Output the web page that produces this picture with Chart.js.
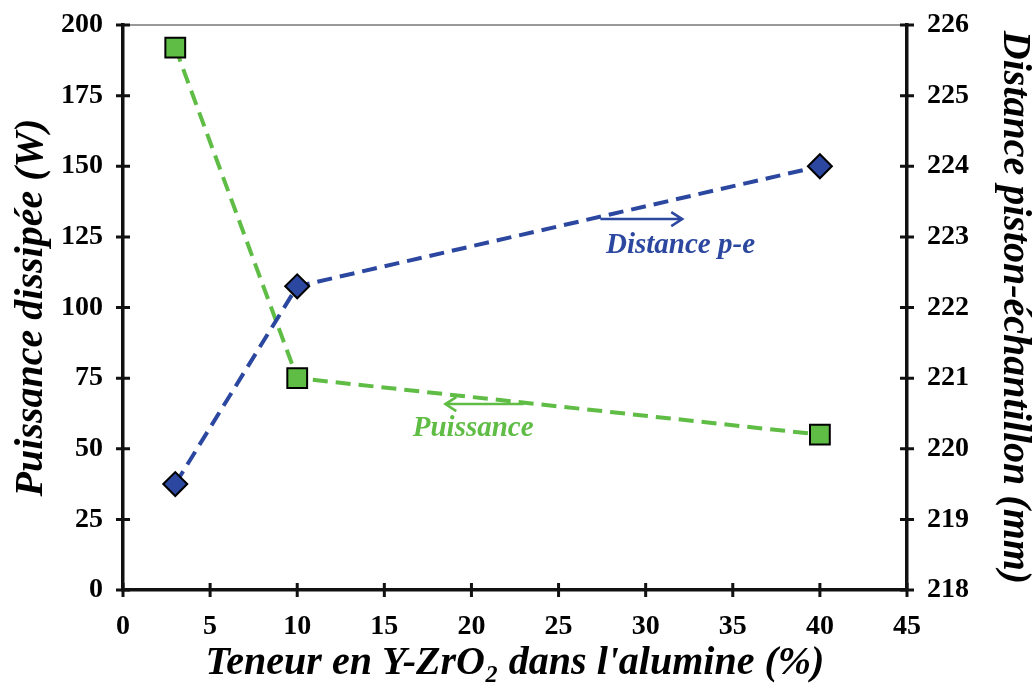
<!DOCTYPE html>
<html>
<head>
<meta charset="utf-8">
<script src="https://cdn.jsdelivr.net/npm/chart.js@4.4.1/dist/chart.umd.min.js"></script>
<style>
  html, body { margin: 0; padding: 0; background: #fff; }
</style>
</head>
<body>
<canvas id="canvas" width="1034" height="684"></canvas>
<script>
// values
var teneur = [3, 10, 40];            // Y-ZrO2 content (%)
var puissance = [192, 75, 55];       // dissipated power (W), left axis
var distance = [219.5, 222.3, 224];  // piston-sample distance (mm), right axis

var xTitle = "Teneur en Y-ZrO\u2082 dans l'alumine (%)";
var yTitle = 'Puissance dissip\u00e9e (W)';
var y1Title = 'Distance piston-\u00e9chantillon (mm)';

var green = '#5fbd46';
var blue = '#2b479f';
var serif = "'Liberation Serif', 'Times New Roman', serif";

function pts(ys) {
    return teneur.map(function (t, i) { return {x: t, y: ys[i]}; });
}

// tick marks crossing the axes, top frame line and the two arrow labels
var decor = {
    id: 'decor',
    afterDatasetsDraw: function (chart) {
        var ctx = chart.ctx, a = chart.chartArea;
        var sx = chart.scales.x, sy = chart.scales.y, sy1 = chart.scales.y1;
        ctx.save();
        ctx.strokeStyle = '#777';
        ctx.lineWidth = 1.5;
        ctx.beginPath();
        ctx.moveTo(a.left, a.top);
        ctx.lineTo(a.right, a.top);
        ctx.stroke();

        ctx.strokeStyle = '#111';
        ctx.lineWidth = 3;
        ctx.beginPath();
        sx.ticks.forEach(function (t) {
            var px = sx.getPixelForValue(t.value);
            ctx.moveTo(px, a.bottom - 7);
            ctx.lineTo(px, a.bottom + 7);
        });
        sy.ticks.forEach(function (t) {
            var py = sy.getPixelForValue(t.value);
            ctx.moveTo(a.left - 7, py);
            ctx.lineTo(a.left + 7, py);
        });
        sy1.ticks.forEach(function (t) {
            var py = sy1.getPixelForValue(t.value);
            ctx.moveTo(a.right - 7, py);
            ctx.lineTo(a.right + 7, py);
        });
        ctx.stroke();

        function arrow(x0, x1, yv, color) {
            var p0 = sx.getPixelForValue(x0), p1 = sx.getPixelForValue(x1);
            var py = sy.getPixelForValue(yv);
            var d = p1 > p0 ? -1 : 1;
            ctx.strokeStyle = color;
            ctx.lineWidth = 2.5;
            ctx.beginPath();
            ctx.moveTo(p0, py);
            ctx.lineTo(p1, py);
            ctx.moveTo(p1 + d * 11, py - 7);
            ctx.lineTo(p1, py);
            ctx.lineTo(p1 + d * 11, py + 7);
            ctx.stroke();
        }
        function label(txt, xv, yv, color) {
            ctx.fillStyle = color;
            ctx.font = 'italic bold 29px ' + serif;
            ctx.textAlign = 'center';
            ctx.textBaseline = 'middle';
            ctx.fillText(txt, sx.getPixelForValue(xv), sy.getPixelForValue(yv));
        }
        arrow(27.4, 32.1, 131.3, blue);
        label('Distance p-e', 32.0, 122, blue);
        arrow(23.0, 18.5, 65.8, green);
        label('Puissance', 20.1, 57.3, green);
        ctx.restore();
    }
};

var tickFont = {family: serif, size: 28, weight: 'bold'};
var titleFont = {family: serif, size: 40, weight: 'bold', style: 'italic'};

function fitY(width) {
    return function (s) {
        s.width = width;
        s.paddingTop = 0;
        s.paddingBottom = 0;
    };
}

new Chart(document.getElementById('canvas').getContext('2d'), {
    type: 'scatter',
    data: {
        datasets: [{
            label: 'Distance p-e',
            data: pts(distance),
            yAxisID: 'y1',
            showLine: true,
            borderColor: blue,
            borderWidth: 4,
            borderDash: [15, 8],
            pointStyle: 'rectRot',
            pointRadius: 12,
            pointBackgroundColor: blue,
            pointBorderColor: '#000',
            pointBorderWidth: 2
        }, {
            label: 'Puissance',
            data: pts(puissance),
            yAxisID: 'y',
            showLine: true,
            borderColor: green,
            borderWidth: 4,
            borderDash: [15, 8],
            pointStyle: 'rect',
            pointRadius: 14,
            pointBackgroundColor: green,
            pointBorderColor: '#000',
            pointBorderWidth: 2
        }]
    },
    options: {
        responsive: false,
        animation: false,
        layout: {padding: {top: 25, left: 0, right: 0, bottom: 0}},
        plugins: {legend: {display: false}, tooltip: {enabled: false}},
        scales: {
            x: {
                type: 'linear', min: 0, max: 45,
                ticks: {stepSize: 5, color: '#000', font: tickFont, padding: 20},
                grid: {display: false, drawTicks: false},
                border: {display: true, color: '#111', width: 3.5},
                title: {display: true, text: xTitle, color: '#000', font: titleFont, padding: {top: 0, bottom: -4}},
                afterFit: function (s) { s.height = 94; }
            },
            y: {
                position: 'left', min: 0, max: 200,
                ticks: {stepSize: 25, color: '#000', font: tickFont, padding: 20},
                grid: {display: false, drawTicks: false},
                border: {display: true, color: '#111', width: 3.5},
                title: {display: true, text: yTitle, color: '#000', font: titleFont, padding: {top: 8, bottom: 0}},
                afterFit: fitY(123)
            },
            y1: {
                position: 'right', min: 218, max: 226,
                ticks: {stepSize: 1, color: '#000', font: tickFont, padding: 20},
                grid: {display: false, drawTicks: false},
                border: {display: true, color: '#111', width: 3.5},
                title: {display: true, text: y1Title, color: '#000', font: titleFont, padding: {top: -4, bottom: 0}},
                afterFit: fitY(127)
            }
        }
    },
    plugins: [decor]
});
</script>
</body>
</html>
